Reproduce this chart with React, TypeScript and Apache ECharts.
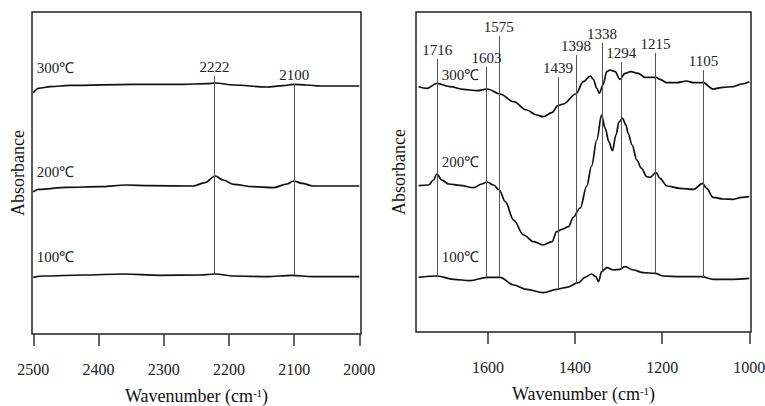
import React, { useEffect, useRef } from "react";
import * as echarts from "echarts";

// ---------- Left panel: 2500–2000 cm-1 ----------
const leftWn300 = [2500, 2492, 2474, 2444, 2347, 2270, 2234, 2221, 2193, 2142, 2117, 2101, 2081, 2060, 2000];
const leftAbs300 = [241.3, 245.7, 247.3, 248.7, 249.7, 249.7, 250.3, 251, 249, 247, 248.3, 249.7, 249, 248, 248];

const leftWn200 = [2500, 2492, 2449, 2398, 2357, 2321, 2255, 2237, 2221, 2209, 2193, 2163, 2132, 2111, 2101, 2088, 2071, 2000];
const leftAbs200 = [142.3, 144.7, 146.7, 147.3, 149, 148.3, 148, 151.3, 158, 154, 149.7, 147.3, 146.3, 150, 153, 150.7, 148, 148];

const leftWn100 = [2500, 2485, 2423, 2362, 2306, 2244, 2221, 2193, 2142, 2104, 2071, 2000];
const leftAbs100 = [56.7, 58, 59, 60, 58.7, 59, 60, 58, 57.3, 58.7, 57.3, 57.3];

const leftPeaks = [2222, 2100];
const leftPeakTops = [258, 250];
const leftTicks = [2500, 2400, 2300, 2200, 2100, 2000];

// ---------- Right panel: ~1765–1000 cm-1 ----------
const rightWn300 = [1759, 1740, 1717, 1687, 1656, 1625, 1601, 1572, 1541, 1511, 1488, 1473, 1453, 1439, 1427, 1398, 1381, 1365, 1358, 1350, 1344, 1336, 1327, 1320, 1308, 1297, 1285, 1272, 1255, 1239, 1214, 1205, 1189, 1167, 1144, 1128, 1106, 1083, 1060, 1037, 1017, 1000];
const rightAbs300 = [245.3, 243.7, 248.7, 245.3, 242.7, 241.3, 243, 238, 230.3, 222, 217, 215.3, 219.3, 226.3, 228, 238, 250.3, 256, 252.7, 243.7, 238.7, 247, 260.3, 262, 260.3, 252.7, 258.7, 260.3, 258.7, 254.7, 254.7, 252.7, 249.3, 249.3, 251, 249.3, 249.3, 243, 244.7, 245.3, 248, 250.3];

const rightWn200 = [1759, 1736, 1725, 1717, 1706, 1690, 1664, 1633, 1614, 1602, 1587, 1574, 1560, 1541, 1518, 1495, 1473, 1453, 1442, 1430, 1415, 1404, 1388, 1373, 1362, 1350, 1339, 1331, 1322, 1314, 1306, 1299, 1291, 1283, 1278, 1269, 1258, 1248, 1235, 1228, 1214, 1205, 1189, 1159, 1128, 1107, 1098, 1083, 1060, 1037, 1017, 1000];
const rightAbs200 = [146.3, 147, 152, 158, 152, 148, 146.7, 144.3, 148, 150, 147, 142, 130.3, 112, 97, 90.3, 87, 90.3, 100.3, 102.7, 105.3, 114.7, 124, 146, 166, 192, 217, 204, 190, 181.3, 197, 210, 213.7, 207, 198.7, 187, 172, 164, 155.3, 154.7, 159.3, 153.7, 146, 143.7, 142.7, 148.7, 143.7, 134.7, 133, 132.7, 134.7, 135.3];

const rightWn100 = [1759, 1716, 1679, 1641, 1602, 1572, 1541, 1511, 1473, 1442, 1419, 1392, 1377, 1362, 1352, 1346, 1339, 1327, 1312, 1297, 1285, 1266, 1243, 1216, 1197, 1159, 1109, 1083, 1044, 1000];
const rightAbs100 = [54.7, 56, 52.7, 51.3, 54.7, 54.7, 47, 42.7, 39.3, 42.7, 44.7, 49.3, 54.7, 58, 55.3, 50.3, 60.3, 64.3, 62, 62.7, 65.3, 62, 59.3, 58.7, 56, 55.3, 55.3, 52.7, 52.7, 53.7];

const rightPeaks = [1716, 1603, 1575, 1439, 1398, 1338, 1294, 1215, 1105];
const rightPeakTops = [273, 265, 296, 255, 277, 289, 270, 279, 262];
const rightTicks = [1000, 1200, 1400, 1600];

const tempLabels = ["300℃", "200℃", "100℃"];
const leftTempLabelAt = [[2466, 266], [2466, 162], [2466, 77]];
const rightTempLabelAt = [[1663, 257], [1663, 170], [1663, 75]];

const FONT = "'Liberation Serif', 'Times New Roman', serif";

function interp(xs: number[], ys: number[], x: number): number {
  for (let i = 0; i < xs.length - 1; i++) {
    const a = xs[i], b = xs[i + 1];
    if ((x <= a && x >= b) || (x >= a && x <= b)) {
      const t = (x - a) / (b - a);
      return ys[i] + t * (ys[i + 1] - ys[i]);
    }
  }
  return ys[ys.length - 1];
}

function pairs(xs: number[], ys: number[]) {
  return xs.map((x, i) => [x, ys[i]]);
}

export default function App() {
  const ref = useRef<HTMLDivElement>(null);
  useEffect(() => {
    const chart = echarts.init(ref.current!, null, { renderer: "svg" });

    const mkSeries = (
      gi: number,
      wn: number[],
      abs: number[],
      label: string,
      at: number[],
      peaks?: number[],
      tops?: number[]
    ): any => {
      const s: any = {
        type: "line",
        xAxisIndex: gi,
        yAxisIndex: gi,
        data: pairs(wn, abs),
        showSymbol: false,
        smooth: 0.35,
        smoothMonotone: "x",
        silent: true,
        lineStyle: { color: "#111", width: 1.7 },
        z: 3,
        markPoint: {
          silent: true,
          symbol: "circle",
          symbolSize: 0,
          label: {
            show: true,
            position: "inside",
            formatter: label,
            fontFamily: FONT,
            fontSize: 15,
            color: "#222",
          },
          data: [{ coord: at }],
        },
      };
      if (peaks && tops) {
        s.markLine = {
          silent: true,
          symbol: ["none", "none"],
          lineStyle: { color: "#555", width: 1, type: "solid" },
          emphasis: { disabled: true },
          label: {
            show: true,
            position: "end",
            distance: 2,
            formatter: "{b}",
            fontFamily: FONT,
            fontSize: 15,
            color: "#222",
          },
          data: peaks.map((w, i) => [
            { coord: [w, interp(wn, abs, w)], name: String(w) },
            { coord: [w, tops[i]] },
          ]),
        };
      }
      return s;
    };

    const xAxisBase = (gi: number, min: number, max: number, ticks: number[]): any => ({
      gridIndex: gi,
      type: "value",
      inverse: true,
      min,
      max,
      axisLine: { show: false },
      axisTick: {
        show: true,
        inside: false,
        length: 12,
        lineStyle: { color: "#333", width: 1.5 },
        customValues: ticks,
      },
      axisLabel: {
        show: true,
        margin: 27,
        fontFamily: FONT,
        fontSize: 16,
        color: "#222",
        formatter: (v: number) => String(v),
        customValues: ticks,
        hideOverlap: false,
      },
      splitLine: { show: false },
      name: "Wavenumber (cm{s|-1})",
      nameLocation: "middle",
      nameGap: 53,
      nameTextStyle: {
        fontFamily: FONT,
        fontSize: 18,
        color: "#111",
        rich: {
          s: { fontFamily: FONT, fontSize: 11, color: "#111", verticalAlign: "top" },
        },
      },
    });

    const yAxisBase = (gi: number, max: number, gap: number): any => ({
      gridIndex: gi,
      type: "value",
      min: 0,
      max,
      axisLine: { show: false },
      axisTick: { show: false },
      axisLabel: { show: false },
      splitLine: { show: false },
      name: "Absorbance",
      nameLocation: "middle",
      nameGap: gap,
      nameTextStyle: { fontFamily: FONT, fontSize: 18, color: "#111" },
    });

    chart.setOption({
      animation: false,
      backgroundColor: "#fff",
      grid: [
        { left: 32, top: 12, width: 329, height: 322, show: true, borderColor: "#222", borderWidth: 1.5, outerBoundsMode: "none", containLabel: false },
        { left: 416, top: 12, width: 335, height: 320, show: true, borderColor: "#222", borderWidth: 1.5, outerBoundsMode: "none", containLabel: false },
      ],
      xAxis: [xAxisBase(0, 1997.5, 2502, leftTicks), xAxisBase(1, 996, 1765, rightTicks)],
      yAxis: [yAxisBase(0, 322, 5), yAxisBase(1, 320, 8)],
      series: [
        mkSeries(0, leftWn300, leftAbs300, tempLabels[0], leftTempLabelAt[0]),
        mkSeries(0, leftWn200, leftAbs200, tempLabels[1], leftTempLabelAt[1]),
        mkSeries(0, leftWn100, leftAbs100, tempLabels[2], leftTempLabelAt[2], leftPeaks, leftPeakTops),
        mkSeries(1, rightWn300, rightAbs300, tempLabels[0], rightTempLabelAt[0]),
        mkSeries(1, rightWn200, rightAbs200, tempLabels[1], rightTempLabelAt[1]),
        mkSeries(1, rightWn100, rightAbs100, tempLabels[2], rightTempLabelAt[2], rightPeaks, rightPeakTops),
      ],
    });
    return () => chart.dispose();
  }, []);
  return (
    <div
      ref={ref}
      style={{ position: "fixed", left: 0, top: 0, width: 765, height: 406, background: "#fff" }}
    />
  );
}
